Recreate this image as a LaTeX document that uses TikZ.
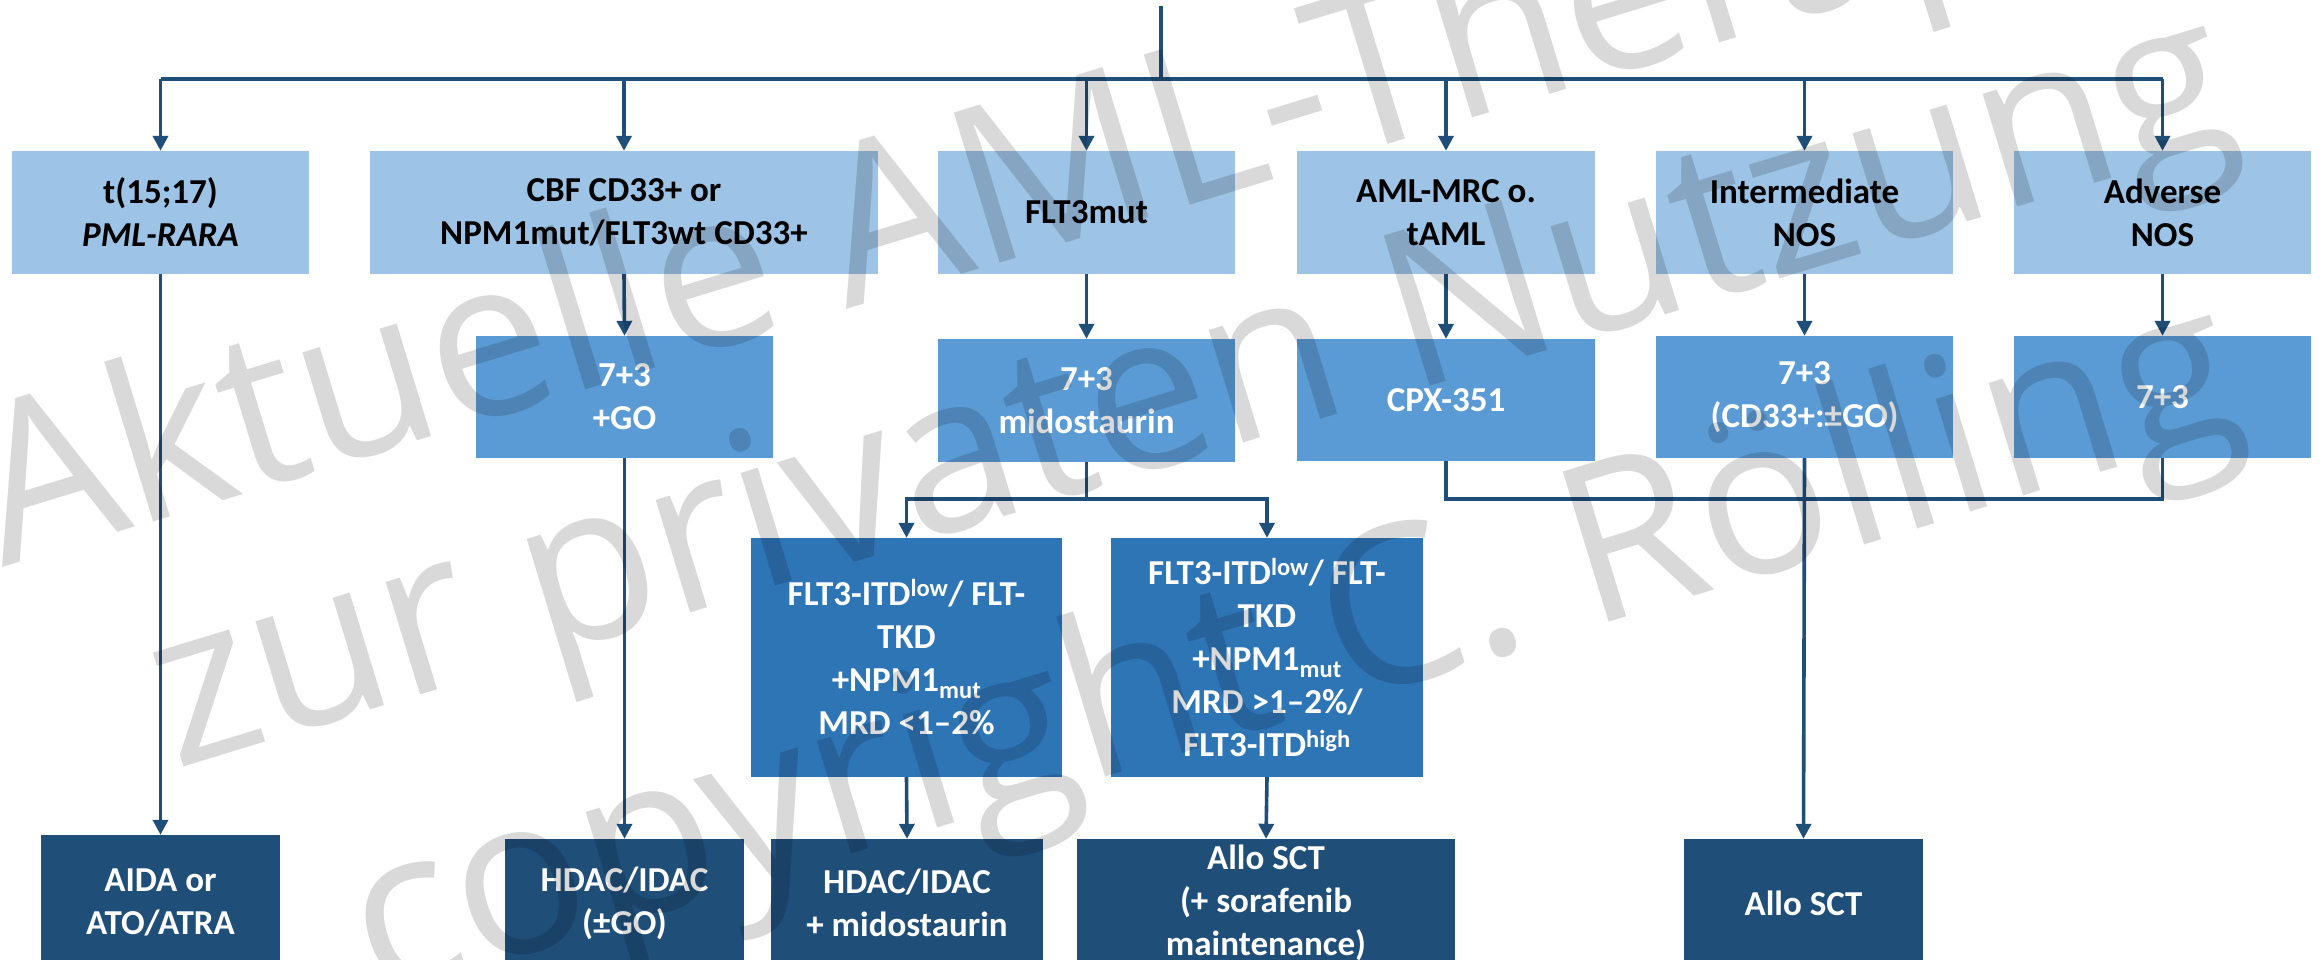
\documentclass[tikz,border=0pt]{standalone}
\usepackage{fontspec}
\setmainfont{Carlito}
\newfontfamily\wmfont{Open Sans}
\usetikzlibrary{arrows.meta}
\definecolor{cA}{HTML}{9DC3E6}
\definecolor{cB}{HTML}{5B9BD5}
\definecolor{cC}{HTML}{2E75B6}
\definecolor{cD}{HTML}{1F4E79}
\definecolor{lineC}{HTML}{1F4E79}
\begin{document}
\begin{tikzpicture}[x=1pt,y=-1pt,
  box/.style={inner sep=0pt, align=center, font=\fontsize{35}{43}\selectfont\bfseries},
  rowa/.style={box, fill=cA, text=black, minimum height=123pt},
  rowb/.style={box, fill=cB, text=white},
  rowc/.style={box, fill=cC, text=white, minimum height=239pt},
  rowd/.style={box, fill=cD, text=white},
  conn/.style={draw=lineC, line width=3.6pt},
  arr/.style={conn, -{Triangle[width=15pt,length=15pt]}},
  wm/.style={inner sep=0pt, font=\wmfont\fontsize{220}{220}\selectfont, text=black, text opacity=0.15, anchor=base west, rotate=17}]
\useasboundingbox (0,0) rectangle (2320,960);
\clip (0,0) rectangle (2320,960);
\fill[white] (0,0) rectangle (2320,960);

% row 1
\node[rowa, minimum width=297pt] (b1) at (160.5,212.5) {t(15;17)\\ \textit{PML-RARA}};
\node[rowa, minimum width=508pt] (b2) at (624,212.5) {CBF CD33+ or\\ NPM1mut/FLT3wt CD33+};
\node[rowa, minimum width=297pt] (b3) at (1086.5,212.5) {FLT3mut};
\node[rowa, minimum width=298pt] (b4) at (1446,212.5) {AML-MRC o.\\ tAML};
\node[rowa, minimum width=297pt] (b5) at (1804.5,212.5) {Intermediate\\ NOS};
\node[rowa, minimum width=297pt] (b6) at (2162.5,212.5) {Adverse\\ NOS};

% row 2
\node[rowb, minimum width=297pt, minimum height=122pt] (c2) at (624.5,397) {7+3\\ +GO};
\node[rowb, minimum width=297pt, minimum height=123pt] (c3) at (1086.5,400.5) {7+3\\ midostaurin};
\node[rowb, minimum width=298pt, minimum height=122pt] (c4) at (1446,400) {CPX-351};
\node[rowb, minimum width=297pt, minimum height=122pt] (c5) at (1804.5,397) {7+3\\ (CD33+:±GO)};
\node[rowb, minimum width=297pt, minimum height=122pt] (c6) at (2162.5,397) {7+3};

% row 3
\node[rowc, minimum width=311pt] (d1) at (906.5,657.5) {FLT3-ITD\textsuperscript{low}/ FLT-\\ TKD\\ +NPM1\textsubscript{mut}\\ MRD <1–2\%};
\node[rowc, minimum width=312pt] (d2) at (1267,657.5) {FLT3-ITD\textsuperscript{low}/ FLT-\\ TKD\\ +NPM1\textsubscript{mut}\\ MRD >1–2\%/\\ FLT3-ITD\textsuperscript{high}};

% row 4
\node[rowd, minimum width=239pt, minimum height=134pt] (e1) at (160.5,902) {AIDA or\\ ATO/ATRA};
\node[rowd, minimum width=239pt, minimum height=128pt] (e2) at (624.5,903) {HDAC/IDAC\\ (±GO)};
\node[rowd, minimum width=272pt, minimum height=128pt] (e3) at (907,903) {HDAC/IDAC\\ + midostaurin};
\node[rowd, minimum width=378pt, minimum height=128pt] (e4) at (1266,903) {Allo SCT\\ (+ sorafenib\\ maintenance)};
\node[rowd, minimum width=239pt, minimum height=128pt] (e5) at (1803.5,903) {Allo SCT};

% connectors
\coordinate (top) at (1161,6);
\coordinate (bus) at (1161,79);
\coordinate (j1) at (1086.5,499);
\coordinate (j2) at (1804.5,499);
\draw[conn] (top) -- (bus);
\draw[conn] (b1.north |- bus) -- (b6.north |- bus);
\foreach \n in {b1,b2,b3,b4,b5,b6} {\draw[arr] (\n.north |- bus) -- (\n.north);}
\draw[arr] (b1.south) -- (e1.north);
\draw[arr] (b2.south) -- (c2.north);
\draw[arr] (c2.south) -- (e2.north);
\draw[arr] (b3.south) -- (c3.north);
\draw[conn] (c3.south) -- (j1);
\draw[arr] (j1) -| (d1.north);
\draw[arr] (j1) -| (d2.north);
\draw[arr] (d1.south) -- (e3.north);
\draw[arr] (d2.south) -- (e4.north);
\draw[arr] (b4.south) -- (c4.north);
\draw[arr] (b5.south) -- (c5.north);
\draw[arr] (b6.south) -- (c6.north);
\draw[conn] (c4.south) -- (c4.south |- j2) -- (c6.south |- j2) -- (c6.south);
\draw[arr] (c5.south) -- (e5.north);

% watermark
\node[wm] (w1) at (2,568) {Aktuelle AML-Therapie};
\node[wm] (w2) at (175,770) {zur privaten Nutzung};
\node[wm] (w3) at (375,1000) {copyright C. Rölling};
\end{tikzpicture}
\end{document}
